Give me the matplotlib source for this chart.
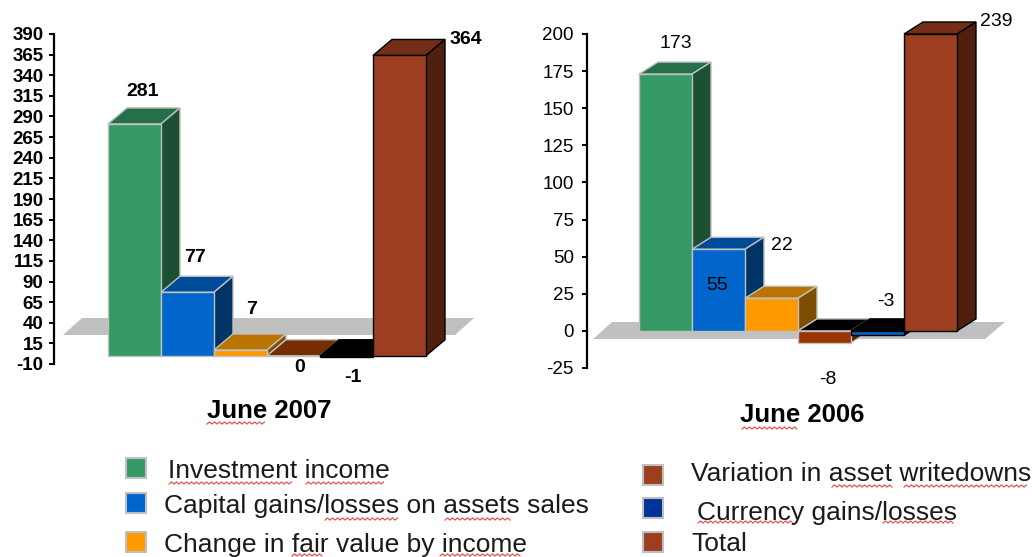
import numpy as np
import matplotlib
matplotlib.use("Agg")
import matplotlib.pyplot as plt
from matplotlib.patches import Polygon, Rectangle

W, H = 1032, 557
plt.rcParams["font.family"] = ["Liberation Sans", "DejaVu Sans"]

# chart data
values_2007 = [281, 77, 7, 0, -1, 364]
values_2006 = [173, 55, 22, -8, -3, 239]
ticks_2007 = [390, 365, 340, 315, 290, 265, 240, 215, 190, 165, 140, 115, 90, 65, 40, 15, -10]
ticks_2006 = [200, 175, 150, 125, 100, 75, 50, 25, 0, -25]
legend_left = ["Investment income", "Capital gains/losses on assets sales", "Change in fair value by income"]
legend_right = ["Variation in asset writedowns", "Currency gains/losses", "Total"]

# (front, top, side) per bar
GREEN = ("#359966", "#24704a", "#1c4f33")
BLUE = ("#0066cc", "#004c99", "#003366")
ORANGE = ("#ff9900", "#bb7300", "#7f4d00")
RUST = ("#9c3f20", "#742e17", "#4f2010")
colors_2007 = [GREEN, BLUE, ORANGE, ("#9c3300", "#742e00", "#4f2000"), ("#000000", "#000000", "#000000"), RUST]
colors_2006 = [GREEN, BLUE, ORANGE, ("#993300", "#000000", "#4f2000"), ("#0066cc", "#000000", "#000000"), RUST]
edges = ["#c0c0c0"] * 4 + ["#000000", "#000000"]

BAR_PX = 53.0
DX_PX = 19


def px_axes(fig, x0, x1, ytop, ybot, zorder):
    return fig.add_axes([x0 / W, 1 - ybot / H, (x1 - x0) / W, (ybot - ytop) / H], zorder=zorder)


def draw_chart(fig, values, colors, ticks, spine_x, bar_x, ytop, ybot, tick_weight, pad, dy_px):
    ax = px_axes(fig, spine_x, spine_x + 450, ytop, ybot, 2)
    ax.patch.set_alpha(0)
    ymin, ymax = ticks[-1], ticks[0]
    ax.set_ylim(ymin, ymax)
    ax.set_xlim(-(bar_x - spine_x) / BAR_PX, (spine_x + 450 - bar_x) / BAR_PX)
    dx = DX_PX / BAR_PX
    dy = dy_px * (ymax - ymin) / (ybot - ytop)

    for i, v in enumerate(values):
        front, top, side = colors[i]
        h = min(v, ymax)
        up = max(h, 0)
        low = min(h, 0)
        z = 3 + i
        ax.add_patch(Polygon([(i, up), (i + dx, up + dy), (i + 1 + dx, up + dy), (i + 1, up)],
                             fc=top, ec=edges[i], lw=1, clip_on=False, zorder=z))
        ax.add_patch(Polygon([(i + 1, low), (i + 1 + dx, low + dy), (i + 1 + dx, up + dy), (i + 1, up)],
                             fc=side, ec=edges[i], lw=1, clip_on=False, zorder=z))
        ax.bar(i, h, width=1, align="edge", color=front, edgecolor=edges[i], lw=1, zorder=z + 0.5)

    for s in ("top", "right", "bottom"):
        ax.spines[s].set_visible(False)
    ax.spines["left"].set_linewidth(1.6)
    ax.spines["left"].set_color("black")
    ax.set_xticks([])
    ax.set_yticks(ticks)
    ax.set_yticklabels([str(t) for t in ticks], fontsize=13.5, fontweight=tick_weight)
    ax.tick_params(axis="y", length=3.5, width=1.4, pad=pad)
    return ax


def squiggle(ax, x0, x1, y):
    xs = np.arange(x0, x1 + 0.1, 2.5)
    ys = y + 1.1 * (-1.0) ** np.arange(len(xs))
    ax.plot(xs, ys, color="#e8453c", lw=0.8, zorder=2)


fig = plt.figure(figsize=(W / 100, H / 100), dpi=100, facecolor="white")

bg = px_axes(fig, 0, W, 0, H, 0)
bg.set_xlim(0, W)
bg.set_ylim(H, 0)
bg.axis("off")
fg = px_axes(fig, 0, W, 0, H, 5)
fg.set_xlim(0, W)
fg.set_ylim(H, 0)
fg.axis("off")
fg.patch.set_alpha(0)

# grey floors
bg.add_patch(Polygon([(63, 335), (82, 318), (474, 318), (455, 335)], fc="#c0c0c0", ec="none"))
bg.add_patch(Polygon([(593, 339), (612, 322), (1005, 322), (985, 339)], fc="#c0c0c0", ec="none"))

draw_chart(fig, values_2007, colors_2007, ticks_2007, 54, 108, 34, 364, "bold", 4, 16)
draw_chart(fig, values_2006, colors_2006, ticks_2006, 587, 639, 34, 368, "normal", 6, 12)

# value labels
label_xy_2007 = [(143, 92), (195, 258), (252, 310), (300, 367), (353, 377), (466, 40)]
label_xy_2006 = [(676, 43), (717, 286), (782, 245), (828, 379), (886, 301), (996, 21)]
for v, (x, y) in zip(values_2007, label_xy_2007):
    fg.text(x, y, str(v), ha="center", va="center", fontsize=14, fontweight="bold")
for v, (x, y) in zip(values_2006, label_xy_2006):
    fg.text(x, y, str(v), ha="center", va="center", fontsize=14)

fg.text(269, 411, "June 2007", ha="center", va="center", fontsize=18.5, fontweight="bold")
fg.text(802, 415, "June 2006", ha="center", va="center", fontsize=18.5, fontweight="bold")
squiggle(fg, 207, 266, 423)
squiggle(fg, 742, 797, 428)

# legend
left_pos = [(168, 471), (164, 506), (164, 545)]
left_boxes = [458, 493, 532]
right_pos = [(691, 474), (697, 513), (691, 544)]
right_boxes = [465, 498, 532]
left_colors = ["#359966", "#0066cc", "#ff9900"]
right_colors = ["#9c3f20", "#003399", "#9c3f20"]
for txt, (x, y), by, c in zip(legend_left, left_pos, left_boxes, left_colors):
    fg.add_patch(Rectangle((126, by), 20, 20, fc=c, ec="#c0c0c0", lw=1.5))
    fg.text(x, y, txt, ha="left", va="center", fontsize=19, color="#1a1a1a")
for txt, (x, y), by, c in zip(legend_right, right_pos, right_boxes, right_colors):
    fg.add_patch(Rectangle((643, by), 20, 20, fc=c, ec="#c0c0c0", lw=1.5))
    fg.text(x, y, txt, ha="left", va="center", fontsize=19, color="#1a1a1a")

for x0, x1, y in [(169, 292, 483), (306, 385, 483), (325, 398, 519), (445, 510, 519),
                  (292, 322, 555), (440, 522, 555), (832, 892, 486), (904, 1028, 486),
                  (698, 795, 522), (883, 954, 522)]:
    squiggle(fg, x0, x1, y)

fig.savefig("out.png", dpi=100)
plt.close(fig)
